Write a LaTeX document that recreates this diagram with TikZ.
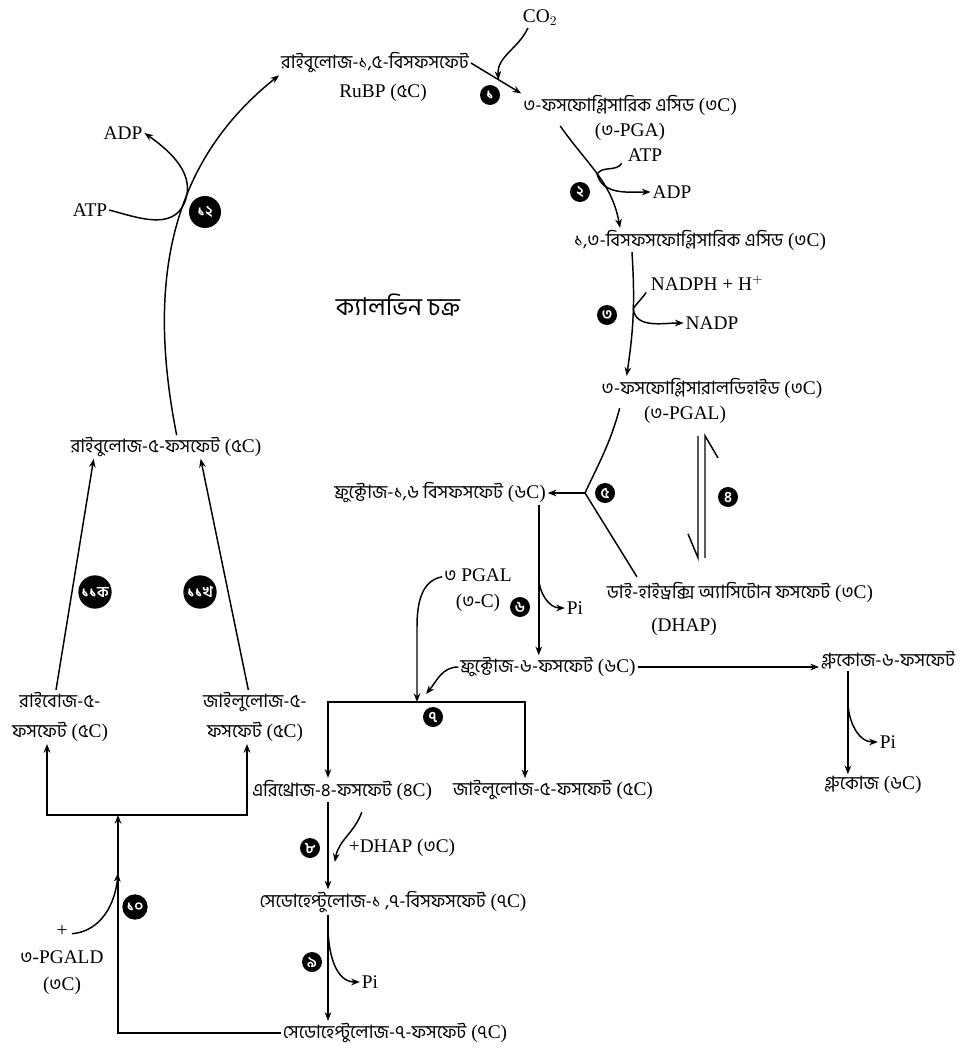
\documentclass[tikz,border=0pt]{standalone}
\usepackage{fontspec}
\setmainfont{Liberation Serif}
\newfontfamily\bn[Script=Bengali,Scale=0.95]{Hind Siliguri}
\usetikzlibrary{arrows.meta}
\usetikzlibrary{positioning}
\usetikzlibrary{calc}
\tikzset{
num/.style = {circle, fill, text=white, inner sep=0pt,
              minimum size=#1, font=\bn\bfseries\fontsize{12}{12}\selectfont},
num/.default = 15pt, % small step marks
lbl/.style = {inner sep=1pt, align=center},
}
\newcommand{\cc}[1]{({\bn #1}C)}
\newcommand{\stepmark}[4][15pt]{\node[num=#1] (#2) at (#3) {#4};}

\begin{document}
\begin{tikzpicture}[x=0.75pt, y=-0.75pt, line width=1.1pt,
    >={Stealth[length=6.5pt,width=5pt]},
    font=\fontsize{14.5}{17}\selectfont]
    \useasboundingbox (0,0) rectangle (959,1048);

    \node[lbl] (rubp) at (375,63) {\bn রাইবুলোজ-১,৫-বিসফসফেট};
    \node[lbl] (rubpb) at (383,93) {RuBP \cc{৫}};
    \node[lbl] (co2) at (540,18) {CO$_2$};
    \node[lbl, font=\fontsize{14.5}{18.5}\selectfont] (pga) at (630,118) {{\bn ৩-ফসফোগ্লিসারিক এসিড} \cc{৩}\\({\bn ৩}-PGA)};
    \node[lbl] (atpb) at (645,155) {ATP};
    \node[lbl] (adpb) at (672,192) {ADP};
    \node[lbl] (bpga) at (700,240) {{\bn ১,৩-বিসফসফোগ্লিসারিক এসিড} \cc{৩}};
    \node[lbl] (nadph) at (707,283) {NADPH + H$^+$};
    \node[lbl] (nadp) at (712,323) {NADP};
    \node[lbl] (pgal) at (712,388) {{\bn ৩-ফসফোগ্লিসারালডিহাইড} \cc{৩}};
    \node[lbl] (pgalb) at (685,415) {({\bn ৩}-PGAL)};
    \node[lbl, font=\fontsize{19.4}{24}\selectfont\bn] (title) at (398,305) {ক্যালভিন চক্র};
    \node[lbl] (fbp) at (440,493) {{\bn ফ্রুক্টোজ-১,৬ বিসফসফেট} \cc{৬}};
    \node[lbl] (dhap) at (740,592) {{\bn ডাই-হাইড্রক্সি অ্যাসিটোন ফসফেট} \cc{৩}};
    \node[lbl] (dhapb) at (684,627) {(DHAP)};
    \node[lbl, font=\fontsize{14.5}{19}\selectfont] (pgalc) at (478,590) {{\bn ৩} PGAL\\({\bn ৩}-C)};
    \node[lbl] (pia) at (575,608) {Pi};
    \node[lbl] (f6p) at (548,667) {{\bn ফ্রুক্টোজ-৬-ফসফেট} \cc{৬}};
    \node[lbl] (g6p) at (888,660) {\bn গ্লুকোজ-৬-ফসফেট};
    \node[lbl] (pib) at (888,742) {Pi};
    \node[lbl] (glc) at (873,785) {{\bn গ্লুকোজ} \cc{৬}};
    \node[lbl] (e4p) at (342,790) {{\bn এরিথ্রোজ-৪-ফসফেট} \cc{৪}};
    \node[lbl] (xu5pb) at (553,790) {{\bn জাইলুলোজ-৫-ফসফেট} \cc{৫}};
    \node[lbl] (dhapc) at (402,848) {+DHAP \cc{৩}};
    \node[lbl] (sbp) at (393,902) {{\bn সেডোহেপ্টুলোজ-১ ,৭-বিসফসফেট} \cc{৭}};
    \node[lbl] (pic) at (370,982) {Pi};
    \node[lbl] (s7p) at (395,1033) {{\bn সেডোহেপ্টুলোজ-৭-ফসফেট} \cc{৭}};
    \node[lbl, font=\fontsize{14.5}{20}\selectfont] (pgald) at (62,960) {+\\{\bn ৩}-PGALD\\\cc{৩}};
    \node[lbl, font=\fontsize{14.5}{23}\selectfont] (r5p) at (60,717) {{\bn রাইবোজ-৫-}\\{\bn ফসফেট} \cc{৫}};
    \node[lbl, font=\fontsize{14.5}{23}\selectfont] (xu5p) at (255,717) {{\bn জাইলুলোজ-৫-}\\{\bn ফসফেট} \cc{৫}};
    \node[lbl] (ru5p) at (166,447) {{\bn রাইবুলোজ-৫-ফসফেট} \cc{৫}};
    \node[lbl] (atpa) at (90,210) {ATP};
    \node[lbl] (adpa) at (123,133) {ADP};

    \stepmark{s1}{490,95}{১}
    \stepmark{s2}{580,192}{২}
    \stepmark{s3}{607,315}{৩}
    \stepmark{s4}{728,497}{৪}
    \stepmark{s5}{605,493}{৫}
    \stepmark{s6}{520,607}{৬}
    \stepmark{s7}{433,717}{৭}
    \stepmark{s8}{310,848}{৮}
    \stepmark{s9}{312,962}{৯}
    \stepmark[19pt]{s10}{135,907}{১০}
    \stepmark[25pt]{s11a}{95,592}{১১ক}
    \stepmark[25pt]{s11b}{200,592}{১১খ}
    \stepmark[24pt]{s12}{205,212}{১২}

    % carboxylation and reduction
    \draw[->] ([xshift=8pt]ru5p.north) .. controls (150,300) and (160,170) .. coordinate[pos=0.6] (m12) (rubp.south west);
    \draw[->] (rubp.east) -- (pga.north west);
    \coordinate (c1) at ($(rubp.east)!0.55!(pga.north west)$);
    \draw[->] ([xshift=-9pt]co2.south) to[out=-115,in=95] (c1);
    \coordinate (p1) at ($(pga.west)+(39,8)$);
    \coordinate (p2) at ($(bpga.north west)+(48,0)$);
    \draw[->] (p1) to[out=-55,in=100] coordinate[pos=0.5] (m2) (p2);
    \draw[->] ([xshift=-3pt]atpb.south west) to[out=-125,in=55] (m2) to[out=-75,in=180] (adpb.west);
    \coordinate (b1) at ($(bpga.south west)+(60,0)$);
    \coordinate (b2) at ($(pgal.north west)+(27,0)$);
    \draw[->] (b1) to[bend left=6] coordinate[pos=0.45] (m3) (b2);
    \draw[->] ([xshift=-2pt]nadph.south west) to[out=-125,in=55] (m3) to[out=-85,in=180] (nadp.west);

    % PGAL fork and DHAP
    \coordinate (v5) at (585,493);
    \draw ($(pgal.south west)+(20,8)$) to[out=-105,in=65] (v5);
    \draw[->] (v5) -- (fbp.east);
    \draw (v5) -- ($(dhap.north west)+(32,-3)$);
    \coordinate (q) at (pgalb.south);
    \draw ($(q)+(13,10)$) -- ($(q)+(13,132)$) -- ++(-10,-24);
    \draw ($(q)+(20,132)$) -- ($(q)+(20,10)$) -- ++(13,22);

    % fructose and glucose
    \coordinate (f1) at ($(fbp.south east)+(-9,0)$);
    \draw[->] (f1) -- (f1 |- f6p.north);
    \draw[->] ($(f1)+(0,72)$) to[out=-90,in=180] (pia.west);
    \draw[->] (f6p.east) -- (f6p.east -| g6p.west);
    \coordinate (g1) at ($(g6p.south west)+(29,0)$);
    \draw[->] (g1) -- (g1 |- glc.north);
    \draw[->] ($(g1)+(0,30)$) to[out=-90,in=180] (pib.west);

    % regeneration
    \coordinate (jl) at (328,702);
    \coordinate (jr) at (525,702);
    \coordinate (jm) at (417,702);
    \draw[->] ($(pgalc.north west)+(0,10)$) to[out=190,in=90] ($(jm)+(0,-75)$) -- (jm);
    \draw[->] (f6p.west) to[out=180,in=50] ($(jm)+(9,-8)$);
    \draw[<->] (jl |- e4p.north) -- (jl) -- (jr) -- (jr |- xu5pb.north);
    \draw[->] (jl |- e4p.south) -- (jl |- sbp.north);
    \draw[->] ($(dhapc.north west)+(15,-25)$) to[out=-110,in=80] ($(dhapc.west)+(-12,14)$);
    \draw[->] (jl |- sbp.south) -- (jl |- s7p.north);
    \coordinate (m9) at (328,926);
    \draw[->] (m9) to[out=-90,in=180] (pic.west);

    \coordinate (bl) at (47,815);
    \coordinate (br) at (247,815);
    \coordinate (bm) at (118,815);
    \draw[->] (s7p.west) -| (bm);
    \draw[<->] (bl |- r5p.south) -- (bl) -- (br) -- (br |- xu5p.south);
    \coordinate (m10) at (118,873);
    \draw[->] ($(pgald.north)+(10,10)$) to[out=5,in=-95] (m10);
    \draw[->] ([xshift=-3pt]r5p.north) -- ($(ru5p.south west)+(25,0)$);
    \draw[->] ([xshift=-5pt]xu5p.north) -- ($(ru5p.south west)+(132,0)$);

    \draw[->] (atpa.east) to[out=-15,in=-115] (m12) to[out=65,in=-35] (adpa.east);
\end{tikzpicture}
\end{document}
